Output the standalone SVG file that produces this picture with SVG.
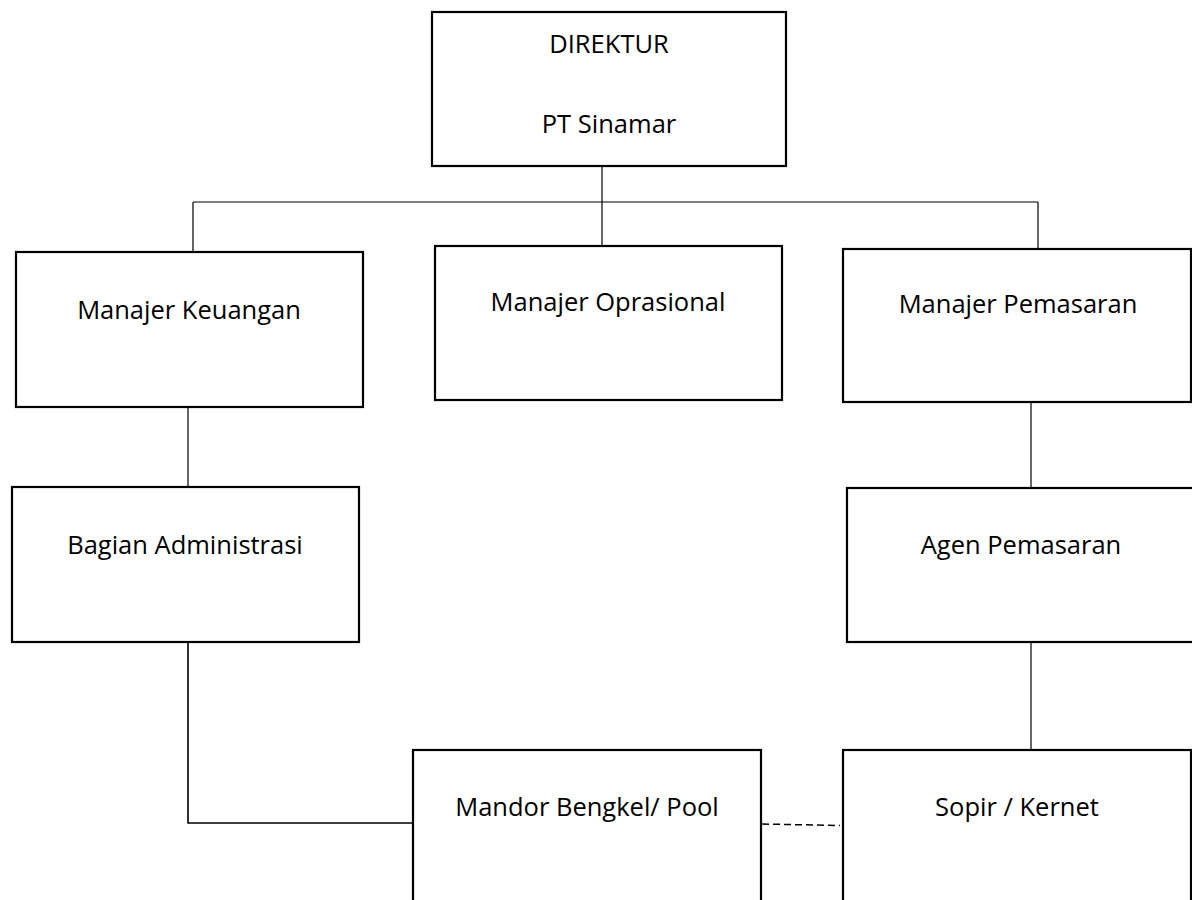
<svg xmlns="http://www.w3.org/2000/svg" width="1192" height="900" viewBox="0 0 1192 900">
<style>
.box{fill:#fff;stroke:#000;stroke-width:2.2}
.t{font-family:"Open Sans","Liberation Sans",sans-serif;font-size:25.5px;fill:#000;text-anchor:middle}
.c{fill:none;stroke:#000;stroke-width:1.2}
.d{fill:none;stroke:#000;stroke-width:1.5;stroke-dasharray:7 4}
</style>
<rect width="1192" height="900" fill="#fff"/>
<g id="connectors">
<line class="c" x1="602" y1="166" x2="602" y2="248"/>
<line class="c" x1="193" y1="202" x2="1038" y2="202"/>
<line class="c" x1="193" y1="202" x2="193" y2="252"/>
<line class="c" x1="1038" y1="202" x2="1038" y2="249"/>
<line class="c" x1="188" y1="407" x2="188" y2="487"/>
<line class="c" x1="1031" y1="402" x2="1031" y2="488"/>
<polyline class="c" points="188,642 188,823 413,823" style="stroke-width:1.6"/>
<line class="c" x1="1031" y1="642" x2="1031" y2="750"/>
<line class="d" x1="762" y1="824" x2="840" y2="825.5"/>
</g>
<g id="direktur">
<rect class="box" x="432" y="12" width="354" height="154"/>
<text class="t" x="609" y="53">DIREKTUR</text>
<text class="t" x="609" y="133">PT Sinamar</text>
</g>
<g id="manajer-keuangan">
<rect class="box" x="16" y="252" width="347" height="155"/>
<text class="t" x="189" y="319">Manajer Keuangan</text>
</g>
<g id="manajer-oprasional">
<rect class="box" x="435" y="246" width="347" height="154"/>
<text class="t" x="608" y="311">Manajer Oprasional</text>
</g>
<g id="manajer-pemasaran">
<rect class="box" x="843" y="249" width="348" height="153"/>
<text class="t" x="1018" y="313">Manajer Pemasaran</text>
</g>
<g id="bagian-administrasi">
<rect class="box" x="12" y="487" width="347" height="155"/>
<text class="t" x="185" y="554">Bagian Administrasi</text>
</g>
<g id="agen-pemasaran">
<rect class="box" x="847" y="488" width="360" height="154"/>
<text class="t" x="1021" y="554">Agen Pemasaran</text>
</g>
<g id="mandor">
<rect class="box" x="413" y="750" width="348" height="170"/>
<text class="t" x="587" y="816">Mandor Bengkel/ Pool</text>
</g>
<g id="sopir">
<rect class="box" x="843" y="750" width="348" height="170"/>
<text class="t" x="1017" y="816">Sopir / Kernet</text>
</g>
</svg>
